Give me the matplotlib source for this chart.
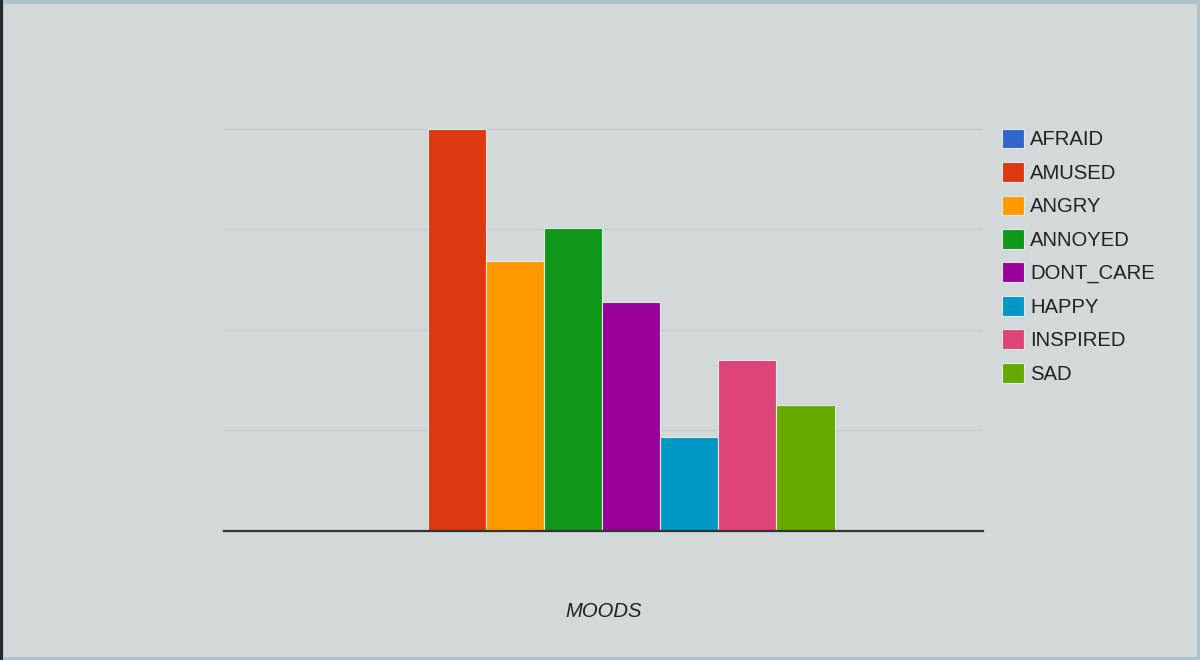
import matplotlib.pyplot as plt
from matplotlib.patches import Rectangle

plt.rcParams['font.family'] = ['Liberation Sans', 'DejaVu Sans']

moods = ["AFRAID", "AMUSED", "ANGRY", "ANNOYED", "DONT_CARE", "HAPPY", "INSPIRED", "SAD"]
counts = [0, 40, 26.8, 30.1, 22.8, 9.3, 17.0, 12.5]
colors = ["#3366cc", "#dc3912", "#ff9900", "#109618", "#990099", "#0099c6", "#dd4477", "#66aa00"]

bg = "#d3d9d9"

fig = plt.figure(figsize=(12, 6.6), dpi=100)
fig.set_facecolor(bg)

# page frame
fig.patches.append(Rectangle((0, 0), 1, 1, transform=fig.transFigure, fill=False,
                             edgecolor="#b0c3ca", linewidth=5, zorder=0))
fig.patches.append(Rectangle((0, 0), 0.0025, 1, transform=fig.transFigure,
                             facecolor="#262a2e", edgecolor="none", zorder=1))

ax = fig.add_axes([0.1867, 0.1955, 0.6325, 0.6098])
ax.set_facecolor(bg)

n = len(moods)
w = 0.0766
handles = []
for i, (m, v, c) in enumerate(zip(moods, counts, colors)):
    b = ax.bar((i - (n - 1) / 2) * w - 0.002, v, width=w, color=c, edgecolor="#e4e9ea",
               linewidth=0.8, label=m, zorder=3)
    handles.append(b)

ax.set_xlim(-0.5, 0.5)
ax.set_ylim(0, 40)
ax.set_yticks([0, 10, 20, 30, 40])
ax.yaxis.grid(True, color="#c6cacc", linewidth=1, zorder=0)
ax.set_xticks([])
ax.tick_params(axis="y", length=0, labelleft=False)
for s in ["top", "right", "left"]:
    ax.spines[s].set_visible(False)
ax.spines["bottom"].set_color("#333333")
ax.spines["bottom"].set_linewidth(1.6)
ax.spines["bottom"].set_zorder(4)

ax.set_xlabel("MOODS", fontsize=14.6, style="italic", color="#222222", labelpad=51)

leg = ax.legend(handles=handles, loc="upper left", bbox_to_anchor=(0.8352, 0.805),
                bbox_transform=fig.transFigure, frameon=False, fontsize=14.6,
                handlelength=1.05, handleheight=1.12, handletextpad=0.34,
                labelspacing=0.625, borderaxespad=0, borderpad=0)
for t in leg.get_texts():
    t.set_color("#222222")

plt.savefig("out.png", dpi=100, facecolor=bg)
